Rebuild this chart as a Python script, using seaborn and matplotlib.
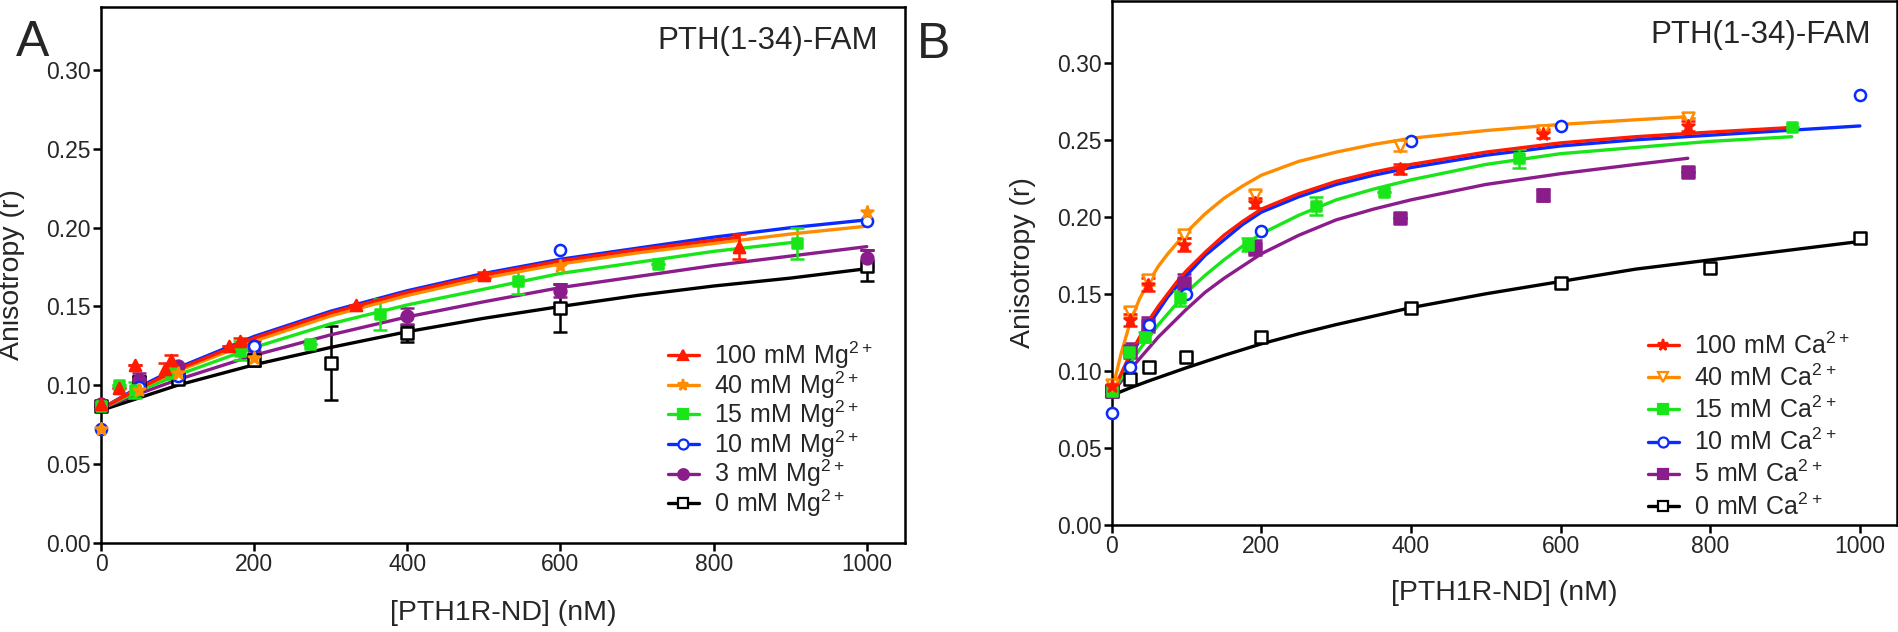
import numpy as np
import pandas as pd
import seaborn as sns
import matplotlib.pyplot as plt
from matplotlib.lines import Line2D

# ---- panel A: Mg2+ titration ----
mg_labels = ['100 mM Mg', '40 mM Mg', '15 mM Mg', '10 mM Mg', '3 mM Mg', '0 mM Mg']

mg100_x = [0, 23, 45, 83, 91, 167, 182, 333, 500, 833]
mg100_y = [0.088, 0.098, 0.113, 0.110, 0.116, 0.125, 0.128, 0.151, 0.170, 0.188]
mg100_e = [0, 0, 0, 0.004, 0.003, 0, 0.002, 0, 0.002, 0.008]
mg40_x = [0, 50, 100, 200, 600, 1000]
mg40_y = [0.072, 0.097, 0.108, 0.117, 0.176, 0.210]
mg40_e = [0, 0, 0, 0, 0, 0]
mg15_x = [0, 23, 45, 91, 182, 273, 364, 545, 727, 909]
mg15_y = [0.087, 0.100, 0.097, 0.108, 0.122, 0.126, 0.145, 0.166, 0.177, 0.190]
mg15_e = [0, 0, 0.005, 0.004, 0.006, 0, 0.010, 0.008, 0, 0.010]
mg10_x = [0, 50, 100, 200, 600, 1000]
mg10_y = [0.072, 0.099, 0.106, 0.125, 0.186, 0.204]
mg10_e = [0, 0, 0, 0, 0, 0]
mg3_x = [0, 50, 100, 200, 400, 600, 1000]
mg3_y = [0.088, 0.103, 0.112, 0.125, 0.144, 0.160, 0.181]
mg3_e = [0, 0.005, 0, 0.003, 0.005, 0.004, 0.005]
mg0_x = [0, 50, 100, 200, 300, 400, 600, 1000]
mg0_y = [0.087, 0.102, 0.104, 0.116, 0.114, 0.133, 0.149, 0.176]
mg0_e = [0, 0.004, 0.002, 0.004, 0.0235, 0.0055, 0.015, 0.010]

# fitted curves, read at a few concentrations
fitA_x = [0, 50, 100, 200, 300, 400, 500, 600, 700, 800, 900, 1000]
fit_mg100_x = [0, 50, 100, 200, 300, 400, 500, 600, 700, 833]
fit_mg100_y = [0.085, 0.098, 0.110, 0.130, 0.146, 0.159, 0.170, 0.179, 0.186, 0.194]
fit_mg40_y = [0.085, 0.098, 0.109, 0.128, 0.144, 0.157, 0.168, 0.177, 0.184, 0.190, 0.196, 0.201]
fit_mg15_x = [0, 50, 100, 200, 300, 400, 500, 600, 700, 800, 909]
fit_mg15_y = [0.085, 0.0965, 0.1065, 0.124, 0.139, 0.151, 0.161, 0.171, 0.178, 0.185, 0.191]
fit_mg10_y = [0.085, 0.099, 0.111, 0.131, 0.147, 0.160, 0.171, 0.180, 0.187, 0.194, 0.200, 0.205]
fit_mg3_y = [0.085, 0.0947, 0.1035, 0.119, 0.132, 0.1434, 0.153, 0.162, 0.169, 0.176, 0.182, 0.188]
fit_mg0_y = [0.084, 0.092, 0.100, 0.113, 0.124, 0.134, 0.1425, 0.150, 0.157, 0.163, 0.168, 0.174]

# ---- panel B: Ca2+ titration ----
ca_labels = ['100 mM Ca', '40 mM Ca', '15 mM Ca', '10 mM Ca', '5 mM Ca', '0 mM Ca']

ca100_x = [0, 24, 48, 96, 192, 385, 577, 770]
ca100_y = [0.090, 0.133, 0.156, 0.182, 0.209, 0.231, 0.254, 0.259]
ca100_e = [0, 0.004, 0.004, 0.004, 0.003, 0.003, 0.003, 0.003]
ca40_x = [0, 24, 48, 96, 192, 385, 577, 770]
ca40_y = [0.091, 0.138, 0.159, 0.188, 0.214, 0.246, 0.256, 0.264]
ca40_e = [0, 0.003, 0.003, 0.002, 0.003, 0.003, 0, 0]
ca15_x = [0, 23, 45, 91, 182, 273, 364, 545, 909]
ca15_y = [0.087, 0.112, 0.122, 0.147, 0.182, 0.207, 0.216, 0.238, 0.258]
ca15_e = [0, 0, 0.003, 0.005, 0.004, 0.006, 0, 0.006, 0]
ca10_x = [0, 25, 50, 100, 200, 400, 600, 1000]
ca10_y = [0.0725, 0.1025, 0.130, 0.150, 0.191, 0.249, 0.259, 0.279]
ca10_e = [0, 0, 0, 0, 0, 0, 0, 0]
ca5_x = [0, 24, 48, 96, 192, 385, 577, 770]
ca5_y = [0.087, 0.113, 0.130, 0.157, 0.180, 0.199, 0.214, 0.229]
ca5_e = [0, 0.005, 0.005, 0.006, 0.005, 0, 0.004, 0]
ca0_x = [0, 25, 50, 100, 200, 400, 600, 800, 1000]
ca0_y = [0.087, 0.095, 0.1025, 0.109, 0.122, 0.141, 0.157, 0.167, 0.186]
ca0_e = [0, 0, 0, 0, 0, 0, 0, 0, 0]

fitB_x = [0, 12.5, 25, 37.5, 50, 62.5, 75, 87.5, 100, 125, 150, 175, 200, 250, 300, 350, 400,
          500, 600, 700, 800, 900, 1000]
fit_ca100_x = fitB_x[:21] + [909]
fit_ca100_y = [0.085, 0.098, 0.111, 0.122, 0.133, 0.142, 0.150, 0.158, 0.165, 0.177, 0.188, 0.197,
               0.205, 0.215, 0.223, 0.229, 0.234, 0.242, 0.248, 0.252, 0.255, 0.258]
fit_ca40_x = fitB_x[:20] + [770]
fit_ca40_y = [0.086, 0.111, 0.132, 0.147, 0.158, 0.168, 0.176, 0.183, 0.190, 0.202, 0.212, 0.220,
              0.227, 0.236, 0.242, 0.247, 0.251, 0.256, 0.260, 0.263, 0.265]
fit_ca15_x = fitB_x[:21] + [909]
fit_ca15_y = [0.085, 0.095, 0.105, 0.114, 0.122, 0.130, 0.137, 0.144, 0.151, 0.162, 0.172, 0.181,
              0.189, 0.201, 0.211, 0.218, 0.224, 0.234, 0.241, 0.245, 0.249, 0.252]
fit_ca10_x = fitB_x
fit_ca10_y = [0.085, 0.097, 0.109, 0.120, 0.130, 0.139, 0.148, 0.155, 0.162, 0.175, 0.185, 0.195,
              0.203, 0.213, 0.221, 0.227, 0.232, 0.240, 0.246, 0.250, 0.253, 0.256, 0.259]
fit_ca5_x = fitB_x[:20] + [770]
fit_ca5_y = [0.085, 0.093, 0.101, 0.108, 0.115, 0.122, 0.128, 0.134, 0.140, 0.151, 0.160, 0.168,
             0.176, 0.188, 0.198, 0.205, 0.211, 0.221, 0.228, 0.234, 0.238]
fit_ca0_x = [0, 25, 50, 100, 150, 200, 250, 300, 400, 500, 600, 700, 800, 900, 1000]
fit_ca0_y = [0.084, 0.089, 0.0935, 0.102, 0.110, 0.1175, 0.124, 0.130, 0.141, 0.150, 0.158, 0.166,
             0.172, 0.178, 0.184]

RED, ORANGE, GREEN, BLUE, PURPLE, BLACK = '#ff1a00', '#ff8c00', '#19e619', '#0a2bff', '#8b1c8b', '#000000'

sns.set_style('ticks')
plt.rcParams['font.family'] = ['Liberation Sans', 'DejaVu Sans']
plt.rcParams['mathtext.fontset'] = 'custom'
plt.rcParams['mathtext.rm'] = 'Liberation Sans'

fig = plt.figure(figsize=(18.99, 6.32), dpi=100)
axA = fig.add_axes([0.0532, 0.1413, 0.4234, 0.8472])
axB = fig.add_axes([0.5854, 0.1696, 0.4137, 0.8285])

panelA = [
    (mg100_x, mg100_y, mg100_e, fit_mg100_x, fit_mg100_y, RED, '^', True, 8),
    (mg40_x, mg40_y, mg40_e, fitA_x, fit_mg40_y, ORANGE, '*', True, 9),
    (mg15_x, mg15_y, mg15_e, fit_mg15_x, fit_mg15_y, GREEN, 's', True, 7.5),
    (mg10_x, mg10_y, mg10_e, fitA_x, fit_mg10_y, BLUE, 'o', False, 8),
    (mg3_x, mg3_y, mg3_e, fitA_x, fit_mg3_y, PURPLE, 'o', True, 8.5),
    (mg0_x, mg0_y, mg0_e, fitA_x, fit_mg0_y, BLACK, 's', False, 8),
]
panelB = [
    (ca100_x, ca100_y, ca100_e, fit_ca100_x, fit_ca100_y, RED, '*', True, 9),
    (ca40_x, ca40_y, ca40_e, fit_ca40_x, fit_ca40_y, ORANGE, 'v', False, 8.5),
    (ca15_x, ca15_y, ca15_e, fit_ca15_x, fit_ca15_y, GREEN, 's', True, 7.5),
    (ca10_x, ca10_y, ca10_e, fit_ca10_x, fit_ca10_y, BLUE, 'o', False, 8),
    (ca5_x, ca5_y, ca5_e, fit_ca5_x, fit_ca5_y, PURPLE, 's', True, 8),
    (ca0_x, ca0_y, ca0_e, fit_ca0_x, fit_ca0_y, BLACK, 's', False, 8),
]


def draw_panel(ax, series, labels, title, legend_anchor, spacing):
    handles = []
    # draw in reverse so the red/orange sit on top like the original
    for (x, y, e, fx, fy, col, mk, filled, ms), lab in list(zip(series, labels))[::-1]:
        sns.lineplot(x=fx, y=fy, ax=ax, color=col, lw=2.4, sort=True, estimator=None)
        e = np.array(e)
        if e.any():
            ax.errorbar(x, y, yerr=e, fmt='none', ecolor=col, elinewidth=1.8,
                        capsize=5, capthick=1.8, clip_on=False)
        df = pd.DataFrame({'x': x, 'y': y})
        fc = col if filled else 'white'
        sns.scatterplot(data=df, x='x', y='y', ax=ax, marker=mk, s=ms ** 2,
                        facecolor=fc, edgecolor=col, linewidth=1.8, clip_on=False, zorder=3)
    for (x, y, e, fx, fy, col, mk, filled, ms), lab in zip(series, labels):
        txt = '$\\mathregular{' + lab.replace(' ', '\\ ') + '^{2+}}$'
        handles.append(Line2D([], [], color=col, lw=2.4, marker=mk, ms=ms * 0.9,
                              mfc=col if filled else 'white', mec=col, mew=1.6, label=txt))
    ax.legend(handles=handles, loc='lower right', bbox_to_anchor=legend_anchor,
              frameon=False, fontsize=18, handlelength=1.25, handletextpad=0.6,
              labelspacing=spacing, borderpad=0, borderaxespad=0)

    ax.set_xlim(0, 1050)
    ax.set_ylim(0, 0.34)
    ax.set_xticks([0, 200, 400, 600, 800, 1000])
    ax.set_yticks([0, 0.05, 0.10, 0.15, 0.20, 0.25, 0.30])
    ax.set_yticklabels(['%.2f' % v for v in ax.get_yticks()])
    ax.tick_params(axis='both', labelsize=16.5, length=5.5, width=1.8, pad=2, color='black')
    for sp in ax.spines.values():
        sp.set_linewidth(1.8)
        sp.set_color('black')
    ax.set_xlabel('[PTH1R-ND] (nM)', fontsize=20.5)
    ax.set_ylabel('Anisotropy (r)', fontsize=20.5)
    ax.text(0.966, 0.965, title, transform=ax.transAxes, ha='right', va='top', fontsize=22.5)


draw_panel(axA, panelA, mg_labels, 'PTH(1-34)-FAM', (0.96, 0.044), -0.07)
draw_panel(axB, panelB, ca_labels, 'PTH(1-34)-FAM', (0.94, 0.01), 0.23)

axA.xaxis.set_label_coords(0.5, -0.107)
axA.yaxis.set_label_coords(-0.095, 0.5)
axB.xaxis.set_label_coords(0.5, -0.105)
axB.yaxis.set_label_coords(-0.096, 0.5)

fig.text(16 / 1899, 1 - 56 / 632, 'A', fontsize=36, va='baseline', ha='left')
fig.text(917 / 1899, 1 - 58 / 632, 'B', fontsize=36, va='baseline', ha='left')

fig.savefig('out.png', dpi=100)
